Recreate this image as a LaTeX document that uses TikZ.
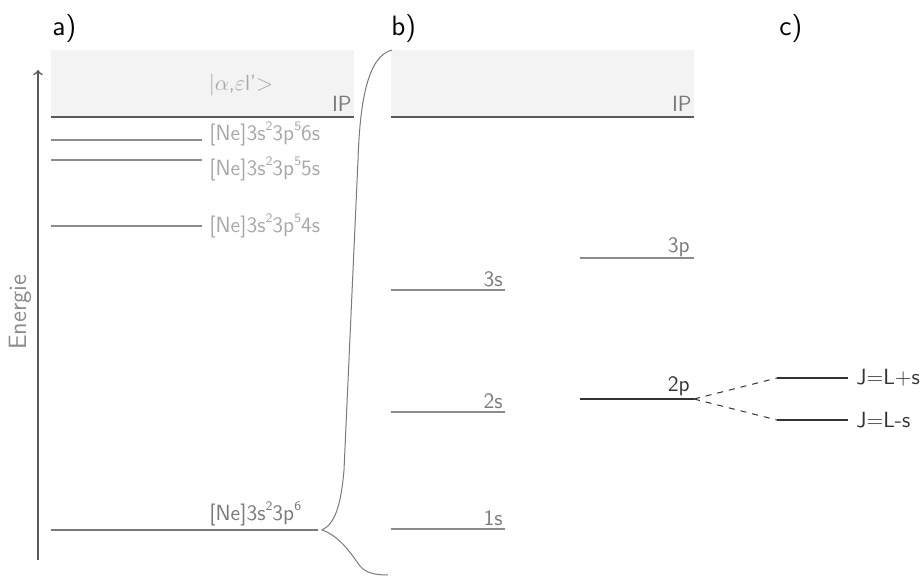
\documentclass[tikz,border=0pt]{standalone}
\usetikzlibrary{calc}

\newcommand{\hoch}[1]{\raisebox{0.42em}{\fontsize{6.5}{7}\selectfont #1}}

\begin{document}
\begin{tikzpicture}[x=0.5pt, y=-0.5pt, font=\sffamily\fontsize{11}{13}\selectfont]
    % Define colours
    \definecolor{bandColour}{HTML}{F3F3F3}
    \definecolor{ipColour}{HTML}{5A5A5A}
    \definecolor{levelColour}{HTML}{8C8C8C}
    \definecolor{faintColour}{HTML}{A8A8A8}
    \definecolor{labelColour}{HTML}{7A7A7A}
    \definecolor{darkColour}{HTML}{333333}

    \tikzset{
        level/.style={draw=levelColour, line width=0.6pt},
        iplevel/.style={draw=ipColour, line width=0.7pt},
        faintlabel/.style={text=faintColour, inner sep=0pt},
        levellabel/.style={text=labelColour, inner sep=0pt},
        darklabel/.style={text=darkColour, inner sep=0pt},
        panel/.style={font=\sffamily\fontsize{14}{16}\selectfont, inner sep=0pt, anchor=west}
    }

    \useasboundingbox (0,0) rectangle (923,575);

    % Panel titles
    \node[panel] (titleA) at (52,29) {a)};
    \node[panel] (titleB) at (391,29) {b)};
    \node[panel] (titleC) at (779,29) {c)};

    % Continuum bands above the ionisation potential
    \fill[bandColour] (51,50) rectangle (354,117);
    \fill[bandColour] (391,50) rectangle (694,117);

    % Energy axis
    \coordinate (axisBottom) at (38,560);
    \coordinate (axisTop) at (38,70);
    \draw[ipColour, line width=0.8pt, ->] (axisBottom) -- (axisTop);
    \node[rotate=90, text=levelColour, font=\sffamily\fontsize{12.5}{14}\selectfont] (energie) at (20,312) {Energie};

    % a) atomic levels of argon
    \coordinate (ipA1) at (51,117);
    \coordinate (ipA2) at (354,117);
    \draw[iplevel] (ipA1) -- (ipA2);
    \node[levellabel, anchor=base east] (ipA) at (352,111) {IP};
    \node[faintlabel] (cont) at (241,85) {\textbar$\alpha$,$\varepsilon$l'$>$};

    \coordinate (sixS1) at (51,140);
    \coordinate (sixS2) at (202,140);
    \draw[level] (sixS1) -- (sixS2);
    \node[faintlabel, anchor=base west] (sixS) at (209,140)
        {[Ne]3s\hoch{2}3p\hoch{5}6s};

    \coordinate (fiveS1) at (51,160);
    \coordinate (fiveS2) at (202,160);
    \draw[level] (fiveS1) -- (fiveS2);
    \node[faintlabel, anchor=base west] (fiveS) at (209,175)
        {[Ne]3s\hoch{2}3p\hoch{5}5s};

    \coordinate (fourS1) at (51,226);
    \coordinate (fourS2) at (202,226);
    \draw[level] (fourS1) -- (fourS2);
    \node[faintlabel, anchor=base west] (fourS) at (209,232)
        {[Ne]3s\hoch{2}3p\hoch{5}4s};

    \coordinate (ground1) at (51,530);
    \coordinate (ground2) at (318,530);
    \draw[level, draw=labelColour] (ground1) -- (ground2);
    \node[levellabel, anchor=base west] (ground) at (209,520)
        {[Ne]3s\hoch{2}3p\hoch{6}};

    % Curly brace from ground state to the single-electron picture
    \coordinate (braceTop) at (392,50);
    \coordinate (braceTip) at (322,530);
    \coordinate (braceBottom) at (388,575);
    \draw[labelColour, line width=0.5pt]
        (braceTop) .. controls (368,56) and (360,100) .. (358,160)
        -- (344,470) .. controls (341,505) and (335,524) .. (braceTip)
        .. controls (340,536) and (352,555) .. (360,566)
        .. controls (366,573) and (375,575) .. (braceBottom);

    % b) single-electron levels
    \coordinate (ipB1) at (391,117);
    \coordinate (ipB2) at (694,117);
    \draw[iplevel] (ipB1) -- (ipB2);
    \node[levellabel, anchor=base east] (ipB) at (692,111) {IP};

    \foreach \name/\lvl/\y in {threeS/3s/290, twoS/2s/412, oneS/1s/529} {
        \coordinate (\name1) at (391,\y);
        \coordinate (\name2) at (505,\y);
        \draw[level] (\name1) -- (\name2);
        \node[levellabel, anchor=base east] (\name) at (503,\y-4) {\lvl};
    }

    \coordinate (threeP1) at (580,258);
    \coordinate (threeP2) at (694,258);
    \draw[level] (threeP1) -- (threeP2);
    \node[levellabel, anchor=base east] (threeP) at (690,252) {3p};

    \coordinate (twoP1) at (580,399);
    \coordinate (twoP2) at (694,399);
    \draw[darkColour, line width=0.6pt] (twoP1) -- (twoP2);
    \node[darklabel, anchor=base east] (twoP) at (690,391) {2p};

    % c) fine-structure splitting of 2p
    \coordinate (plus1) at (777,378);
    \coordinate (plus2) at (848,378);
    \coordinate (minus1) at (777,420);
    \coordinate (minus2) at (848,420);
    \draw[darkColour, line width=0.5pt, dashed] (twoP2) -- (plus1);
    \draw[darkColour, line width=0.5pt, dashed] (twoP2) -- (minus1);
    \draw[darkColour, line width=0.6pt] (plus1) -- (plus2);
    \draw[darkColour, line width=0.6pt] (minus1) -- (minus2);
    \node[darklabel, anchor=west] (jPlus) at (856,378) {J=L+s};
    \node[darklabel, anchor=west] (jMinus) at (856,420) {J=L-s};

\end{tikzpicture}
\end{document}
